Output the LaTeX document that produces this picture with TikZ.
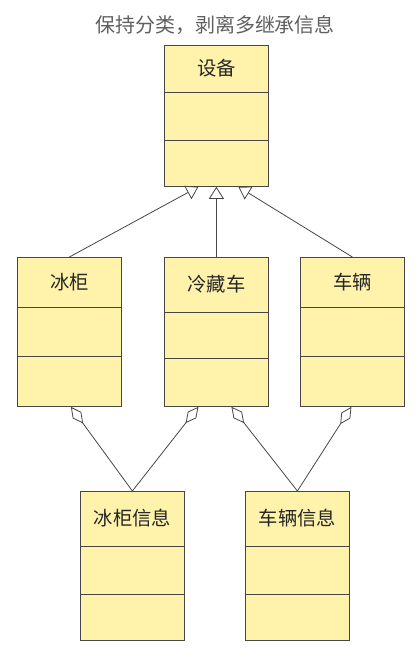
\documentclass[tikz,border=0pt]{standalone}
\usepackage{fontspec}
\newfontfamily\cjk{Noto Sans CJK SC}
\usetikzlibrary{arrows.meta,calc}
\definecolor{clsfill}{RGB}{255,242,171}
\definecolor{clsline}{RGB}{70,70,70}
\definecolor{titlegray}{RGB}{95,95,95}
\begin{document}
\begin{tikzpicture}[x=0.75pt,y=-0.75pt,
        cls/.style={draw=clsline,fill=clsfill,line width=0.6pt,inner sep=0pt,anchor=north west,minimum width=78pt},
        clsname/.style={font=\cjk\fontsize{14.5}{17}\selectfont,text=black!85,inner sep=0pt},
        divider/.style={draw=clsline,line width=0.6pt},
        conn/.style={draw=clsline,line width=0.6pt},
        inherit/.style={conn,-{Triangle[open,length=9pt,width=11.25pt]}},
        aggr/.style={conn,{Diamond[open,length=15.5pt,width=8pt]}-}]
    \useasboundingbox (0,0) rectangle (418,658);
    \node[font=\cjk\fontsize{15}{18}\selectfont,text=titlegray] (ttl) at (215,25) {保持分类，剥离多继承信息};
    \foreach \n/\l/\t/\h/\a/\b/\txt in {sb/164/45/141/47/95/设备,bg/17/257/149/50/99/冰柜,lcc/164/257/149/55/101/冷藏车,
                                         cl/300/257/149/50/99/车辆,bgi/80/491/149/55/103/冰柜信息,cli/245/491/149/55/103/车辆信息}
    {
        \pgfmathsetmacro\hh{\h*0.75}
        \node[cls,minimum height=\hh pt] (\n) at (\l,\t) {};
        \node[clsname] (\n-name) at ($(\n.north)+(0,\a/2)$) {\txt};
        \draw[divider] ($(\n.north west)+(0,\a)$) -- ($(\n.north east)+(0,\a)$);
        \draw[divider] ($(\n.north west)+(0,\b)$) -- ($(\n.north east)+(0,\b)$);
    }
    \draw[inherit] (bg.north) -- ($(sb.south)+(-18,0)$);
    \draw[inherit] (lcc.north) -- (sb.south);
    \draw[inherit] (cl.north) -- ($(sb.south)+(22,0)$);
    \draw[aggr] ($(bg.south)+(1.5,0)$) -- (bgi.north);
    \draw[aggr] ($(lcc.south)+(-18,0)$) -- (bgi.north);
    \draw[aggr] ($(lcc.south)+(15,0)$) -- (cli.north);
    \draw[aggr] ($(cl.south)+(-1,0)$) -- (cli.north);
\end{tikzpicture}
\end{document}
